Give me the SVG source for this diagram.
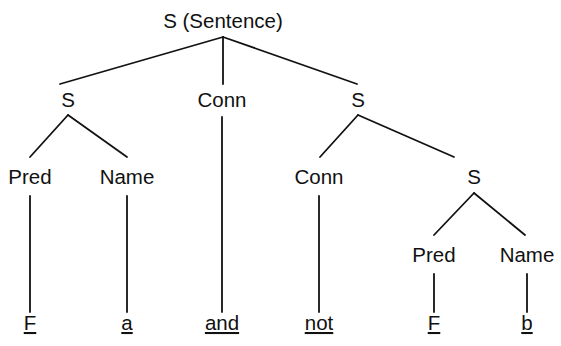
<svg xmlns="http://www.w3.org/2000/svg" width="561" height="346" viewBox="0 0 561 346">
<style>
text{font-family:"Liberation Sans",Arial,sans-serif;font-size:20.5px;fill:#111;text-anchor:middle}
.u{text-decoration:underline}
line{stroke:#111;stroke-width:1.8;stroke-linecap:round}
</style>
<rect width="561" height="346" fill="#fff"/>
<g id="connectors">
<line x1="223" y1="37" x2="60" y2="84"/>
<line x1="223" y1="37" x2="223" y2="84"/>
<line x1="223" y1="37" x2="357" y2="84"/>
<line x1="222" y1="117" x2="222" y2="312"/>
<line x1="68" y1="115" x2="30" y2="157"/>
<line x1="68" y1="115" x2="127" y2="157"/>
<line x1="358" y1="115" x2="320" y2="157"/>
<line x1="358" y1="115" x2="454" y2="157"/>
<line x1="474" y1="193" x2="434" y2="235"/>
<line x1="474" y1="193" x2="525" y2="235"/>
<line x1="30" y1="196" x2="30" y2="312"/>
<line x1="127" y1="196" x2="127" y2="312"/>
<line x1="319" y1="196" x2="319" y2="312"/>
<line x1="434" y1="274" x2="434" y2="312"/>
<line x1="527" y1="274" x2="527" y2="312"/>
</g>
<g id="root"><text x="223" y="28">S (Sentence)</text></g>
<g id="s1"><text x="68" y="107">S</text></g>
<g id="conn1"><text x="222" y="107">Conn</text></g>
<g id="s2"><text x="358" y="107">S</text></g>
<g id="pred1"><text x="30" y="184">Pred</text></g>
<g id="name1"><text x="127" y="184">Name</text></g>
<g id="conn2"><text x="319" y="184">Conn</text></g>
<g id="s3"><text x="474" y="184">S</text></g>
<g id="pred2"><text x="434" y="262">Pred</text></g>
<g id="name2"><text x="527" y="262">Name</text></g>
<g id="leafF1"><text class="u" x="30" y="330">F</text></g>
<g id="leafa"><text class="u" x="127" y="330">a</text></g>
<g id="leafand"><text class="u" x="222" y="330">and</text></g>
<g id="leafnot"><text class="u" x="319" y="330">not</text></g>
<g id="leafF2"><text class="u" x="434" y="330">F</text></g>
<g id="leafb"><text class="u" x="527" y="330">b</text></g>
</svg>
